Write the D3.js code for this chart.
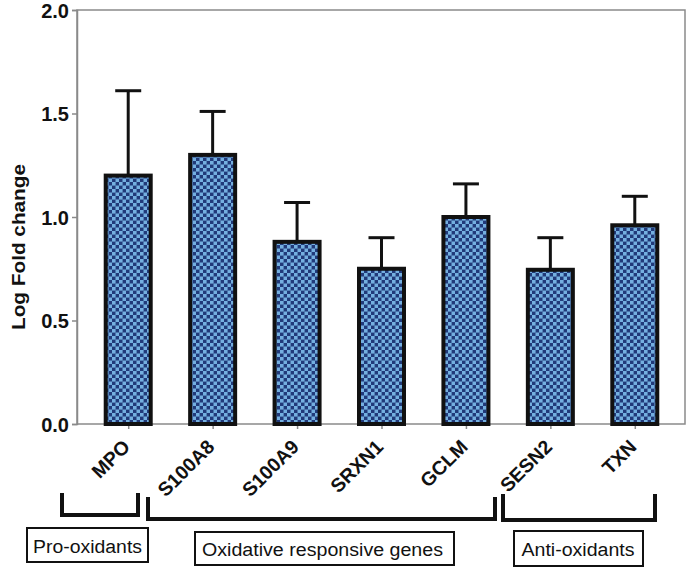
<!DOCTYPE html>
<html>
<head>
<meta charset="utf-8">
<script src="https://cdn.jsdelivr.net/npm/d3@7"></script>
<style>
  body { margin: 0; background: #fff; }
  svg { display: block; font-family: "Liberation Sans", Arial, sans-serif; }
</style>
</head>
<body>
<svg id="chart" width="688" height="569"></svg>
<script>
// data
let genes = ["MPO", "S100A8", "S100A9", "SRXN1", "GCLM", "SESN2", "TXN"];
let foldChange = [1.2, 1.3, 0.88, 0.75, 1.0, 0.745, 0.96];
let errorUp = [0.41, 0.21, 0.19, 0.15, 0.16, 0.155, 0.14];
let yTicks = [0, 0.5, 1.0, 1.5, 2.0];
let groupNames = ["Pro-oxidants", "Oxidative responsive genes", "Anti-oxidants"];

let svg = d3.select("#chart");

// plot frame
let plotLeft = 77, plotRight = 685, plotTop = 10, plotBottom = 424;

let x = d3.scalePoint().domain(genes).range([86, 677]).padding(0.5);
let y = d3.scaleLinear().domain([0, 2]).range([plotBottom, plotTop]);
let barW = 45;

// checker fill
let defs = svg.append("defs");
let pat = defs.append("pattern")
  .attr("id", "checker")
  .attr("patternUnits", "userSpaceOnUse")
  .attr("width", 7).attr("height", 7);
pat.append("rect").attr("width", 7).attr("height", 7).attr("fill", "#213a7a");
pat.append("rect").attr("width", 3.6).attr("height", 3.6).attr("fill", "#74afe0");
pat.append("rect").attr("x", 3.5).attr("y", 3.5).attr("width", 3.6).attr("height", 3.6).attr("fill", "#74afe0");

// frame (grey box)
svg.append("rect")
  .attr("x", plotLeft).attr("y", plotTop)
  .attr("width", plotRight - plotLeft).attr("height", plotBottom - plotTop)
  .attr("fill", "none")
  .attr("stroke", "#8a8a8a")
  .attr("stroke-width", 1.5);

// y axis
let yAxis = svg.append("g")
  .attr("transform", "translate(" + plotLeft + ",0)")
  .call(d3.axisLeft(y).tickValues(yTicks).tickFormat(d3.format(".1f")).tickSize(5).tickPadding(3));
yAxis.select(".domain").attr("stroke", "#8a8a8a").attr("stroke-width", 1.5);
yAxis.selectAll(".tick line").attr("stroke", "#8a8a8a").attr("stroke-width", 1.5);
yAxis.selectAll(".tick text")
  .attr("fill", "#111")
  .attr("dy", "0.36em")
  .style("font-size", "20px")
  .style("font-weight", "bold")
  .style("font-family", "Liberation Sans, Arial, sans-serif");

// x axis ticks + rotated labels
let xAxis = svg.append("g")
  .attr("transform", "translate(0," + plotBottom + ")")
  .call(d3.axisBottom(x).tickSize(5).tickFormat(""));
xAxis.select(".domain").remove();
xAxis.selectAll(".tick line").attr("stroke", "#8a8a8a").attr("stroke-width", 1.5);

svg.selectAll(".xlabel")
  .data(genes)
  .enter()
  .append("text")
  .attr("class", "xlabel")
  .attr("transform", d => "translate(" + (x(d) + 3) + ",448) rotate(-45)")
  .attr("text-anchor", "end")
  .style("font-size", "19.5px")
  .style("font-weight", "bold")
  .attr("fill", "#111")
  .text(d => d);

// y title
svg.append("text")
  .attr("transform", "translate(25,247) rotate(-90)")
  .attr("text-anchor", "middle")
  .attr("textLength", 166)
  .attr("lengthAdjust", "spacingAndGlyphs")
  .style("font-size", "18px")
  .style("font-weight", "bold")
  .attr("fill", "#111")
  .text("Log Fold change");

// error bars (upper only)
let err = svg.append("g");
genes.forEach(function(g, i) {
  let cx = x(g);
  err.append("line")
    .attr("x1", cx).attr("x2", cx)
    .attr("y1", y(foldChange[i])).attr("y2", y(foldChange[i] + errorUp[i]))
    .attr("stroke", "#111").attr("stroke-width", 3);
  err.append("line")
    .attr("x1", cx - 13).attr("x2", cx + 13)
    .attr("y1", y(foldChange[i] + errorUp[i])).attr("y2", y(foldChange[i] + errorUp[i]))
    .attr("stroke", "#111").attr("stroke-width", 3);
});

// bars
svg.selectAll(".bar")
  .data(genes)
  .enter()
  .append("rect")
  .attr("class", "bar")
  .attr("x", d => x(d) - barW / 2)
  .attr("y", (d, i) => y(foldChange[i]))
  .attr("width", barW)
  .attr("height", (d, i) => plotBottom - y(foldChange[i]))
  .attr("fill", "url(#checker)")
  .attr("stroke", "#111")
  .attr("stroke-width", 4);

// group brackets and boxed labels (annotation layout)
let brackets = [
  { x1: 62, x2: 138, y1: 493, y2: 515, box: [27, 528, 121, 34], tx: 87.5, ty: 553, len: 109 },
  { x1: 148, x2: 495, y1: 497, y2: 519, box: [195, 532, 259, 33], tx: 322.5, ty: 556, len: 241 },
  { x1: 503, x2: 655, y1: 494, y2: 520, box: [514, 531, 129, 35], tx: 578, ty: 556, len: 113 }
];
brackets.forEach(function(b, i) {
  svg.append("path")
    .attr("d", "M" + b.x1 + "," + b.y1 + "V" + b.y2 + "H" + b.x2 + "V" + b.y1)
    .attr("fill", "none")
    .attr("stroke", "#111")
    .attr("stroke-width", 4);
  svg.append("rect")
    .attr("x", b.box[0]).attr("y", b.box[1])
    .attr("width", b.box[2]).attr("height", b.box[3])
    .attr("fill", "#fff")
    .attr("stroke", "#111")
    .attr("stroke-width", 2);
  svg.append("text")
    .attr("x", b.tx).attr("y", b.ty)
    .attr("text-anchor", "middle")
    .attr("textLength", b.len)
    .attr("lengthAdjust", "spacingAndGlyphs")
    .style("font-size", "18px")
    .attr("fill", "#111")
    .text(groupNames[i]);
});
</script>
</body>
</html>
